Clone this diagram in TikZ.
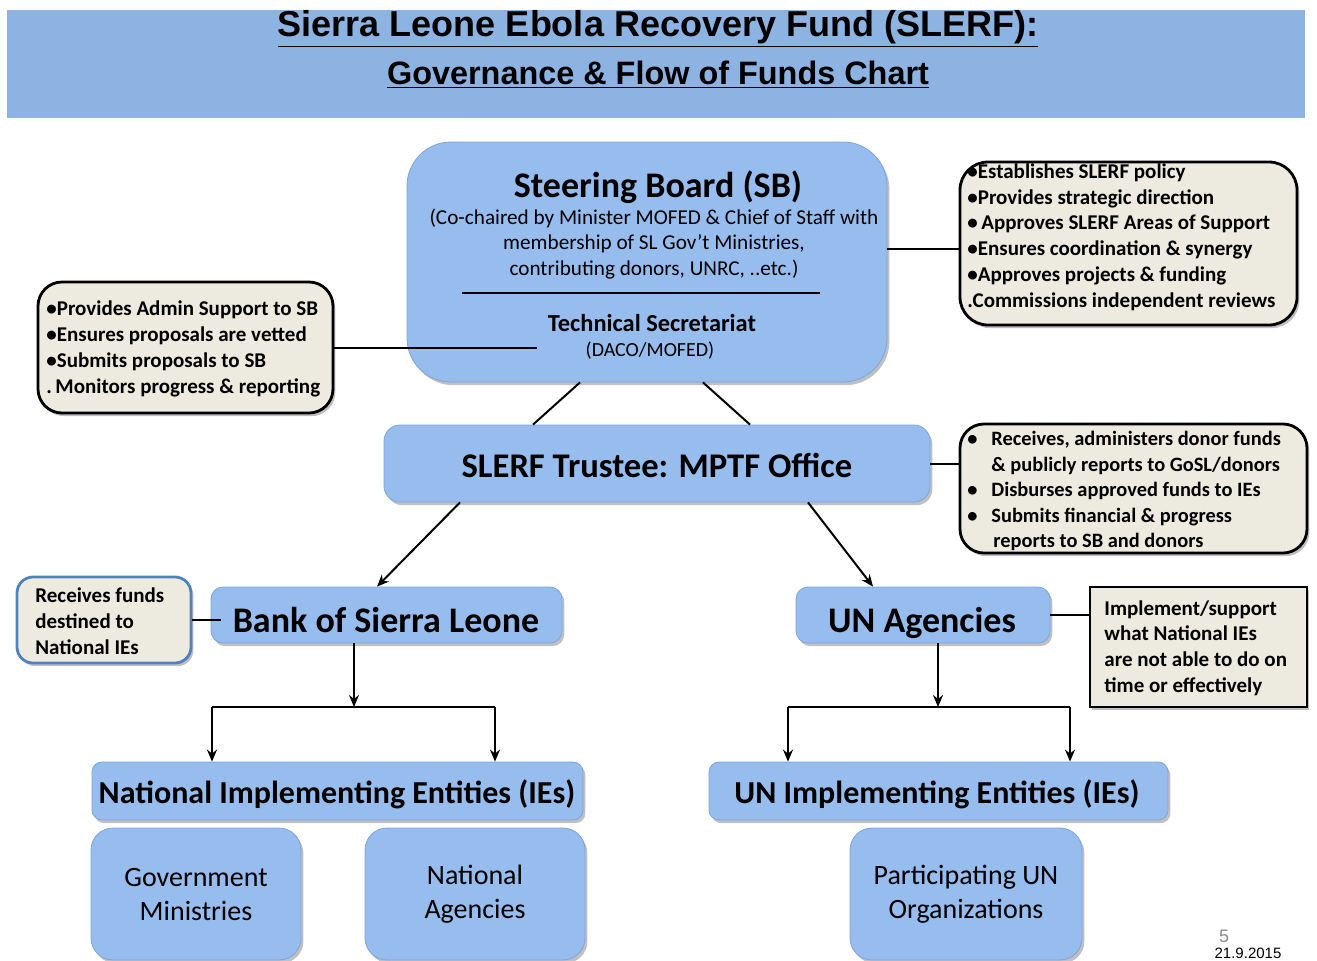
\documentclass[tikz,border=0pt]{standalone}
\usepackage{fontspec}
\setmainfont{Carlito}
\newfontfamily\arialf{Liberation Sans}
\usetikzlibrary{arrows.meta,shadows}
\definecolor{hdrblue}{RGB}{141,179,226}
\definecolor{boxblue}{RGB}{150,189,238}
\definecolor{boxedge}{RGB}{125,165,220}
\definecolor{beige}{RGB}{237,235,224}
\definecolor{noteblue}{RGB}{79,129,189}
\tikzset{
  bluebox/.style={draw=boxedge, line width=0.4pt, fill=boxblue, inner sep=0pt,
    drop shadow={shadow xshift=1.2pt, shadow yshift=-1.6pt, opacity=0.35, fill=black!70}},
  notebox/.style={draw=black, line width=1.4pt, fill=beige, inner sep=0pt,
    drop shadow={shadow xshift=1.2pt, shadow yshift=-1.6pt, opacity=0.35, fill=black!70}},
  txt/.style={inner sep=0pt, font=\bfseries\fontsize{10.5}{12.9}\selectfont, align=left, anchor=west},
  conn/.style={line width=1pt, draw=black},
  arr/.style={line width=1pt, draw=black, -{Stealth[length=6pt,width=5pt]}},
}
\begin{document}
\begin{tikzpicture}[x=0.5pt,y=-0.5pt]
\useasboundingbox (0,0) rectangle (1317,960);
\fill[white] (0,0) rectangle (1317,960);
% header
\fill[hdrblue] (7,10) rectangle (1305,118);
\node[inner sep=0pt, anchor=base, font=\arialf\bfseries\fontsize{18}{20}\selectfont] (t1) at (658,36) {\underline{Sierra Leone Ebola Recovery Fund (SLERF):}};
\node[inner sep=0pt, anchor=base, font=\arialf\bfseries\fontsize{16.2}{18}\selectfont] (t2) at (658,84) {\underline{Governance \& Flow of Funds Chart}};

% steering board
\node[bluebox, rounded corners=22pt, minimum width=240pt, minimum height=120pt] (sb) at (647,262) {};
\node[inner sep=0pt, anchor=base, font=\bfseries\fontsize{18}{20}\selectfont] (sbt) at (658,197) {Steering Board (SB)};
\node[inner sep=0pt, align=center, font=\fontsize{10.6}{12.75}\selectfont] (sbs) at (654,244) {(Co-chaired by Minister MOFED \& Chief of Staff with\\membership of SL Gov't Ministries,\\contributing donors, UNRC, ..etc.)};
\draw[line width=1pt] (462,293) -- (820,293);
\node[inner sep=0pt, anchor=base, font=\bfseries\fontsize{12.2}{14}\selectfont] (tst) at (652,331) {Technical Secretariat};
\node[inner sep=0pt, anchor=base, font=\fontsize{10}{12}\selectfont] (tss) at (650,356) {(DACO/MOFED)};
\coordinate (tsL) at (537,347.5);

% admin note
\node[notebox, rounded corners=12pt, minimum width=147.5pt, minimum height=65.5pt] (adm) at (185.5,347.5) {};
\node[txt] (admt) at (46,349) {\textbullet Provides Admin Support to SB\\\textbullet Ensures proposals are vetted\\\textbullet Submits proposals to SB\\.\,Monitors progress \& reporting};

% SB note
\node[notebox, rounded corners=14pt, minimum width=168.5pt, minimum height=81.5pt] (sbn) at (1128.5,243.5) {};
\node[txt] (sbnt) at (967,237) {\textbullet Establishes SLERF policy\\\textbullet Provides strategic direction\\\textbullet\,Approves SLERF Areas of Support\\\textbullet Ensures coordination \& synergy\\\textbullet Approves projects \& funding\\.Commissions independent reviews};
\coordinate (c1) at (887,249);

% trustee
\node[bluebox, rounded corners=8pt, minimum width=273pt, minimum height=38.5pt] (tr) at (657,463.5) {};
\node[inner sep=0pt, anchor=base, font=\bfseries\fontsize{17.3}{20}\selectfont] (trt) at (657,477) {SLERF Trustee: MPTF Office};

% trustee note
\node[notebox, rounded corners=12pt, minimum width=173.5pt, minimum height=64.5pt] (trn) at (1133.5,488.5) {};
\node[txt, font=\bfseries\fontsize{10.2}{12.75}\selectfont] (trnt) at (967,491) {\makebox[12pt][l]{\textbullet}Receives, administers donor funds\\\hspace{12pt}\& publicly reports to GoSL/donors\\\makebox[12pt][l]{\textbullet}Disburses approved funds to IEs\\\makebox[12pt][l]{\textbullet}Submits financial \& progress\\\hspace{13pt}reports to SB and donors};

% bank
\node[bluebox, rounded corners=6pt, minimum width=175.5pt, minimum height=28pt] (bank) at (386.5,615) {};
\node[inner sep=0pt, anchor=base, font=\bfseries\fontsize{18}{20}\selectfont] (bankt) at (386,632) {Bank of Sierra Leone};
\node[draw=noteblue, line width=1.4pt, fill=beige, rounded corners=8pt, minimum width=87pt, minimum height=43pt, inner sep=0pt,
  drop shadow={shadow xshift=1.2pt, shadow yshift=-1.6pt, opacity=0.35, fill=black!70}] (bkn) at (104,620) {};
\node[txt] (bknt) at (35,621) {Receives funds\\destined to\\National IEs};

% UN agencies
\node[bluebox, rounded corners=6pt, minimum width=127pt, minimum height=28pt] (un) at (923,615) {};
\node[inner sep=0pt, anchor=base, font=\bfseries\fontsize{18}{20}\selectfont] (unt) at (922,632) {UN Agencies};
\node[draw=black, line width=0.8pt, fill=beige, minimum width=108.5pt, minimum height=60pt, inner sep=0pt,
  drop shadow={shadow xshift=1.2pt, shadow yshift=-1.6pt, opacity=0.35, fill=black!70}] (unn) at (1198.5,647) {};
\node[txt] (unnt) at (1104,648) {Implement/support\\what National IEs\\are not able to do on\\time or effectively};

% implementing entities
\node[bluebox, rounded corners=5pt, minimum width=245.5pt, minimum height=29pt] (nie) at (337.5,791) {};
\node[inner sep=0pt, anchor=base, font=\bfseries\fontsize{16}{20}\selectfont] (niet) at (337,803) {National Implementing Entities (IEs)};
\node[bluebox, rounded corners=5pt, minimum width=229.5pt, minimum height=29pt] (unie) at (938.5,791) {};
\node[inner sep=0pt, anchor=base, font=\bfseries\fontsize{16}{20}\selectfont] (uniet) at (937,803) {UN Implementing Entities (IEs)};

\node[bluebox, rounded corners=11pt, minimum width=105pt, minimum height=66pt, align=center, font=\fontsize{14}{17}\selectfont] (gov) at (196,894) {Government\\Ministries};
\node[bluebox, rounded corners=11pt, minimum width=110pt, minimum height=66pt, align=center, font=\fontsize{14}{17}\selectfont] (nag) at (475,894) {National\\Agencies};
\node[bluebox, rounded corners=11pt, minimum width=116pt, minimum height=66pt, align=center, font=\fontsize{14}{17}\selectfont] (puo) at (966,894) {Participating UN\\Organizations};

% connectors
\draw[conn] (adm.east) -- (tsL);
\draw[conn] (c1) -- (c1 -| sbn.west);
\draw[conn] ([xshift=-33.5pt]sb.south) -- ([xshift=-62pt]tr.north);
\draw[conn] ([xshift=28pt]sb.south) -- ([xshift=46.5pt]tr.north);
\draw[conn] (tr.east) -- (tr.east -| trn.west);
\draw[arr] ([xshift=-98.5pt]tr.south) -- ([xshift=-4.75pt]bank.north);
\draw[arr] ([xshift=75.5pt]tr.south) -- ([xshift=-25pt]un.north);
\draw[conn] (bkn.east) -- ([xshift=5pt]bkn.east -| bank.west);
\draw[conn] (un.east) -- (un.east -| unn.west);
\coordinate (bj) at (354,707);
\coordinate (bl) at (212,707);
\coordinate (br) at (495,707);
\draw[arr] (bank.south -| bj) -- (bj);
\draw[conn] (bl) -- (br);
\draw[arr] (bl) -- (bl |- nie.north);
\draw[arr] (br) -- (br |- nie.north);
\coordinate (uj) at (938,707);
\coordinate (ul) at (788,707);
\coordinate (ur) at (1070,707);
\draw[arr] (un.south -| uj) -- (uj);
\draw[conn] (ul) -- (ur);
\draw[arr] (ul) -- (ul |- unie.north);
\draw[arr] (ur) -- (ur |- unie.north);

% footer
\node[inner sep=0pt, anchor=base, text=black!45, font=\arialf\fontsize{9}{10}\selectfont] (pg) at (1224,942) {5};
\node[inner sep=0pt, anchor=base, font=\arialf\fontsize{7.5}{9}\selectfont] (dt) at (1248,958) {21.9.2015};
\end{tikzpicture}
\end{document}
